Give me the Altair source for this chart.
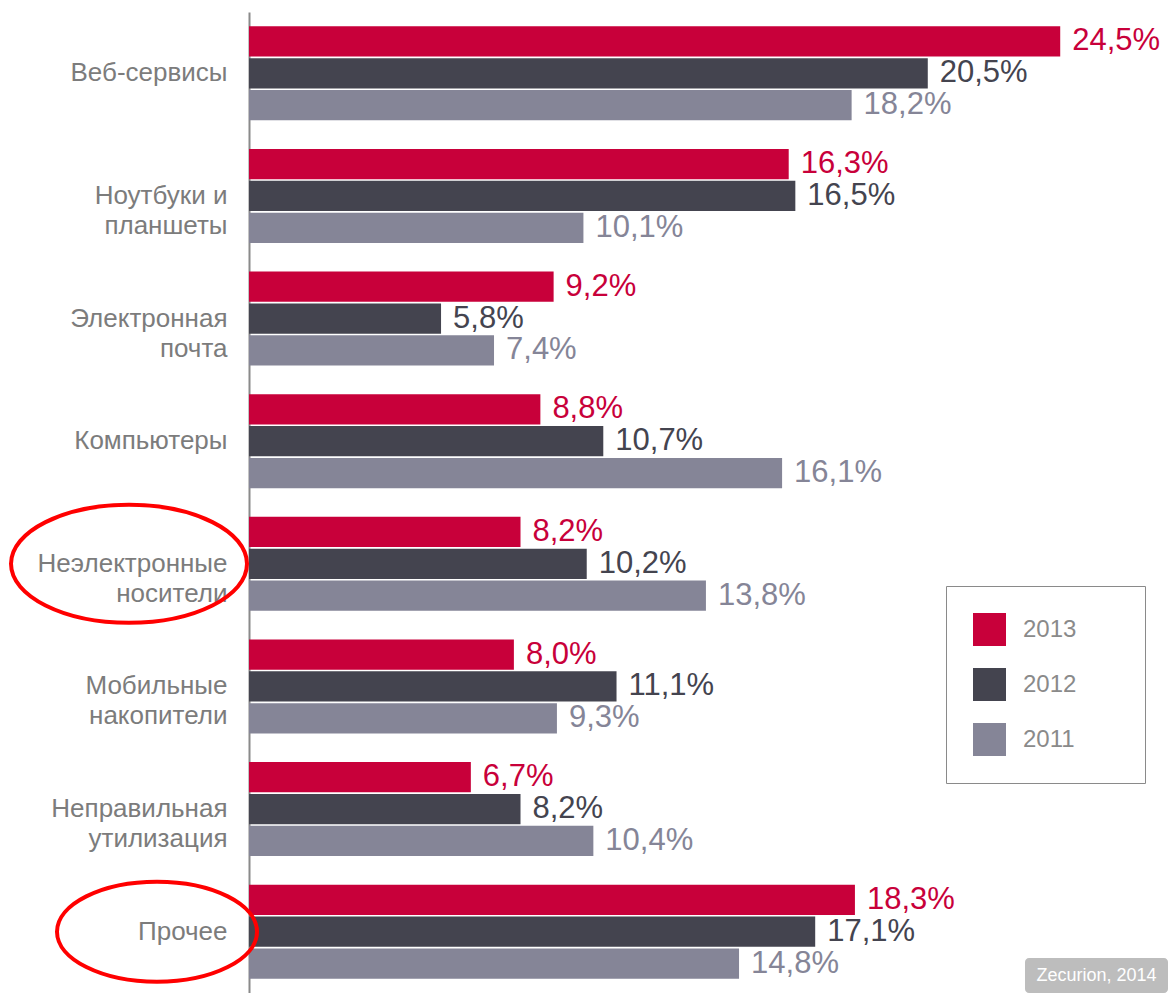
import altair as alt
import pandas as pd

categories = ["Веб-сервисы", "Ноутбуки и\nпланшеты", "Электронная\nпочта", "Компьютеры",
              "Неэлектронные\nносители", "Мобильные\nнакопители", "Неправильная\nутилизация", "Прочее"]
years = ["2013", "2012", "2011"]
v2013 = [24.5, 16.3, 9.2, 8.8, 8.2, 8.0, 6.7, 18.3]
v2012 = [20.5, 16.5, 5.8, 10.7, 10.2, 11.1, 8.2, 17.1]
v2011 = [18.2, 10.1, 7.4, 16.1, 13.8, 9.3, 10.4, 14.8]
colors = ["#c8003a", "#44444f", "#858597"]

highlight_cats = ["Неэлектронные\nносители", "Прочее"]
highlight_cx = [-120, -92]
highlight_w = [236, 200]
source_label = ["Zecurion, 2014"]

series = {"2013": v2013, "2012": v2012, "2011": v2011}
rows = []
for y in years:
    for c, v in zip(categories, series[y]):
        rows.append({"cat": c, "year": y, "value": v,
                     "label": f"{v:.1f}".replace(".", ",") + "%"})
df = pd.DataFrame(rows)

ell = pd.DataFrame({"cat": highlight_cats, "cx": highlight_cx,
                    "size": [w * w for w in highlight_w]})
src = pd.DataFrame({"t": source_label})

FONT = "Liberation Sans"

yenc = alt.Y("cat:N", sort=categories,
             scale=alt.Scale(domain=categories, paddingInner=0.233, paddingOuter=0.1165),
             axis=alt.Axis(title=None, ticks=False, domainColor="#8a8a8a", domainWidth=2,
                           labelFontSize=26, labelColor="#7c7c7c", labelPadding=22,
                           labelLimit=300, labelLineHeight=30, labelFont=FONT,
                           labelExpr="split(datum.label, '\\n')"))
yoff = alt.YOffset("year:N", sort=years, scale=alt.Scale(domain=years, paddingInner=0.05))
xenc = alt.X("value:Q", stack=None, scale=alt.Scale(domain=[0, 27]), axis=None)
cenc = alt.Color("year:N", sort=years,
                 scale=alt.Scale(domain=years, range=colors),
                 legend=alt.Legend(title="000", titleOrient="right", titleOpacity=0,
                                   titleFontSize=24, titlePadding=1, titleFont=FONT,
                                   orient="none", legendX=697, legendY=574,
                                   strokeColor="#8a8a8a", fillColor="white", padding=27,
                                   symbolType="square", symbolSize=1089, symbolStrokeWidth=0,
                                   symbolOpacity=1, labelFontSize=24, labelColor="#8a8a8a",
                                   labelFont=FONT, rowPadding=22, labelOffset=17))

bars = alt.Chart(df).mark_bar().encode(y=yenc, yOffset=yoff, x=xenc, color=cenc)
texts = alt.Chart(df).mark_text(align="left", baseline="middle", dx=12, fontSize=31,
                                font=FONT).encode(
    y=yenc, yOffset=yoff, x=xenc, color=cenc, text="label:N")

ellipses = alt.Chart(ell).mark_point(
    shape="M-1,0C-1,-0.276,-0.552,-0.5,0,-0.5C0.552,-0.5,1,-0.276,1,0C1,0.276,0.552,0.5,0,0.5C-0.552,0.5,-1,0.276,-1,0Z",
    filled=False, stroke="#ff0000", strokeWidth=4, opacity=1).encode(
    y=yenc,
    x=alt.X("cx:Q", scale=None),
    size=alt.Size("size:Q", scale=None, legend=None))

badge = alt.Chart(src).mark_rect(cornerRadius=4, color="#bdbdbd").encode(
    x=alt.value(776), x2=alt.value(919), y=alt.value(946), y2=alt.value(981))
badge_text = alt.Chart(src).mark_text(color="white", fontSize=18, font=FONT,
                                      align="center", baseline="middle").encode(
    x=alt.value(847.5), y=alt.value(964), text="t:N")

chart = alt.layer(bars, texts, ellipses, badge, badge_text).properties(
    width=894, height=981,
    autosize=alt.AutoSizeParams(type="none"),
    padding={"left": 249, "top": 12, "right": 25, "bottom": 0},
    background="white",
).configure_view(stroke=None).configure_axis(grid=False)

chart.save("out.html", embed_options={"renderer": "svg", "actions": False})
